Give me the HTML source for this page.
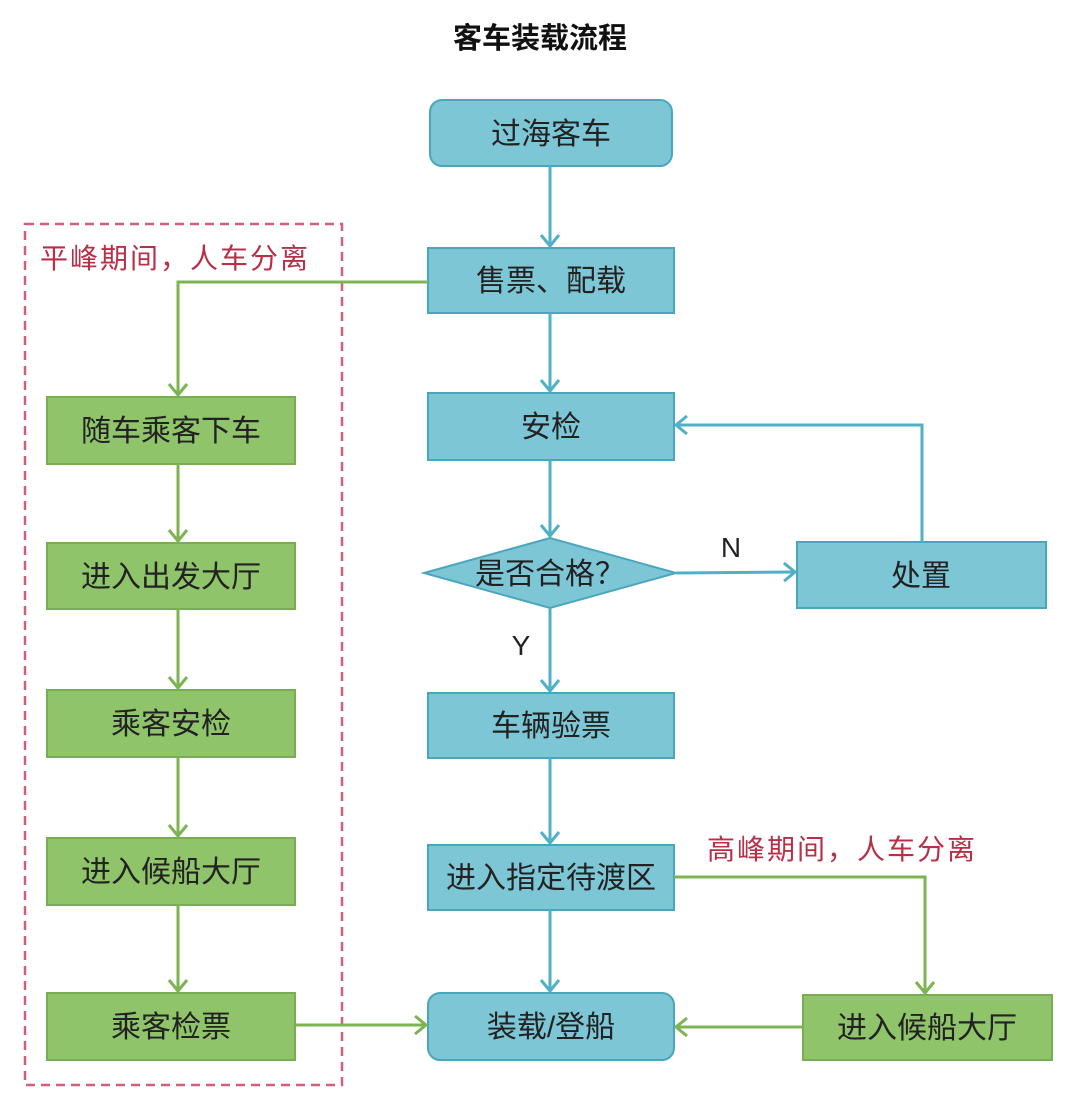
<!DOCTYPE html>
<html><head><meta charset="utf-8"><style>
body{margin:0;background:#fff;width:1080px;height:1095px;overflow:hidden}
svg text{font-family:"Liberation Sans","Noto Sans CJK SC",sans-serif}
</style></head><body>
<svg width="1080" height="1095" viewBox="0 0 1080 1095" xmlns="http://www.w3.org/2000/svg">
<defs>
<marker id="ab" markerWidth="16" markerHeight="22" refX="13" refY="11" orient="auto" markerUnits="userSpaceOnUse"><path d="M2,2 L13,11 L2,20" fill="none" stroke="#4fb0c6" stroke-width="3"/></marker>
<marker id="ag" markerWidth="16" markerHeight="22" refX="13" refY="11" orient="auto" markerUnits="userSpaceOnUse"><path d="M2,2 L13,11 L2,20" fill="none" stroke="#7cb451" stroke-width="3"/></marker>
</defs>
<text x="540" y="48" font-size="29" font-weight="bold" text-anchor="middle" fill="#111">客车装载流程</text>
<rect x="25" y="224" width="317" height="861" fill="none" stroke="#d0607a" stroke-width="2.5" stroke-dasharray="9,6"/>
<text x="40" y="268" font-size="28" letter-spacing="2" fill="#b83048">平峰期间，人车分离</text>
<text x="707" y="859" font-size="28" letter-spacing="2" fill="#b83048">高峰期间，人车分离</text>
<g fill="#7cc6d6" stroke="#4aa6bc" stroke-width="2">
<rect x="430" y="100" width="242" height="66" rx="12"/>
<rect x="428" y="248" width="246" height="65"/>
<rect x="428" y="393" width="246" height="67"/>
<polygon points="424,573 550,538 676,573 550,608"/>
<rect x="797" y="542" width="249" height="66"/>
<rect x="428" y="693" width="246" height="65"/>
<rect x="428" y="845" width="246" height="65"/>
<rect x="428" y="993" width="246" height="67" rx="12"/>
</g>
<g fill="#8fc46b" stroke="#78ad55" stroke-width="2">
<rect x="47" y="397" width="248" height="67"/>
<rect x="47" y="543" width="248" height="66"/>
<rect x="47" y="690" width="248" height="67"/>
<rect x="47" y="838" width="248" height="67"/>
<rect x="47" y="993" width="248" height="67"/>
<rect x="803" y="995" width="249" height="65"/>
</g>
<g fill="none" stroke="#4fb0c6" stroke-width="3">
<path d="M550,166 V246" marker-end="url(#ab)"/>
<path d="M550,313 V391" marker-end="url(#ab)"/>
<path d="M550,460 V536" marker-end="url(#ab)"/>
<path d="M550,608 V691" marker-end="url(#ab)"/>
<path d="M550,758 V843" marker-end="url(#ab)"/>
<path d="M550,910 V991" marker-end="url(#ab)"/>
<path d="M676,573 L795,572" marker-end="url(#ab)"/>
<path d="M922,542 V425 H676" marker-end="url(#ab)"/>
</g>
<g fill="none" stroke="#7cb451" stroke-width="3">
<path d="M428,282 H178 V395" marker-end="url(#ag)"/>
<path d="M178,464 V541" marker-end="url(#ag)"/>
<path d="M178,609 V688" marker-end="url(#ag)"/>
<path d="M178,757 V836" marker-end="url(#ag)"/>
<path d="M178,905 V991" marker-end="url(#ag)"/>
<path d="M295,1025 H426" marker-end="url(#ag)"/>
<path d="M674,877 H925 V993" marker-end="url(#ag)"/>
<path d="M803,1027 H676" marker-end="url(#ag)"/>
</g>
<g font-size="30" fill="#222" text-anchor="middle">
<text x="551" y="144">过海客车</text>
<text x="551" y="291">售票、配载</text>
<text x="551" y="437">安检</text>
<text x="550" y="584">是否合格？</text>
<text x="921" y="586">处置</text>
<text x="551" y="736">车辆验票</text>
<text x="551" y="888">进入指定待渡区</text>
<text x="551" y="1037">装载/登船</text>
<text x="927" y="1038">进入候船大厅</text>
<text x="171" y="441">随车乘客下车</text>
<text x="171" y="587">进入出发大厅</text>
<text x="171" y="734">乘客安检</text>
<text x="171" y="882">进入候船大厅</text>
<text x="171" y="1037">乘客检票</text>
<text x="731" y="557" font-size="28">N</text>
<text x="521" y="655" font-size="28">Y</text>
</g>
</svg>
</body></html>
